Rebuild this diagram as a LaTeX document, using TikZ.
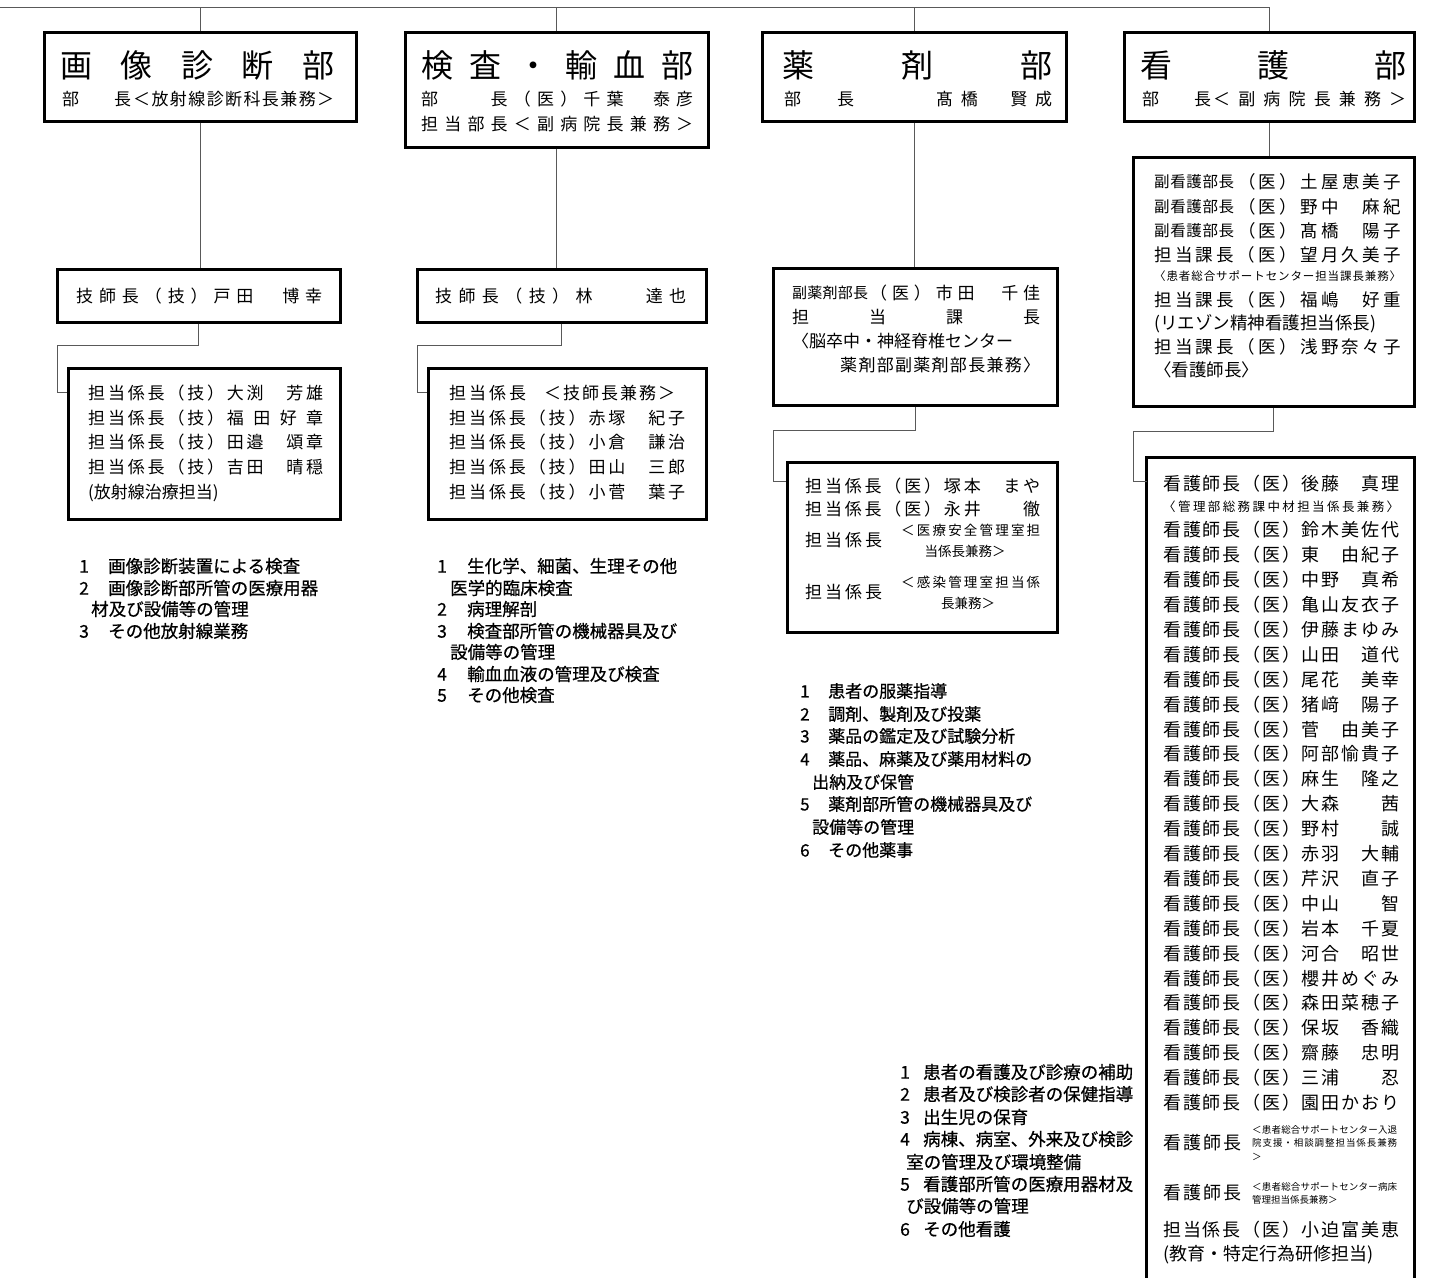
\documentclass[tikz,border=0pt]{standalone}
\usepackage{fontspec}
\setmainfont{Noto Sans CJK JP}
\newfontfamily\lstfont[FakeBold=0.6]{Noto Sans CJK JP}
\makeatletter
\def\spr@end{\spr@end}
\newcommand\spread[2]{\edef\spr@arg{#2}\hbox to #1pt{\expandafter\spr@first\spr@arg\spr@end}}
\def\spr@first#1{#1\spr@next}
\def\spr@next#1{\ifx#1\spr@end\else\hfil#1\expandafter\spr@next\fi}
\newcommand\deffs[2]{%
  \pgfmathsetmacro\fs@h{0.76*#2}%
  \edef\fs@tmp{\noexpand\tikzset{#1/.style={font=\noexpand\fontsize{#2pt}{#2pt}\noexpand\selectfont,text height=\fs@h pt,text depth=0pt}}}%
  \fs@tmp}
\newcommand\deffl[2]{%
  \pgfmathsetmacro\fs@h{0.76*#2}%
  \edef\fs@tmp{\noexpand\tikzset{#1/.style={font=\noexpand\lstfont\noexpand\fontsize{#2pt}{#2pt}\noexpand\selectfont,text height=\fs@h pt,text depth=0pt}}}%
  \fs@tmp}
\makeatother
\deffs{f32}{32}
\deffs{f17}{17}
\deffs{f175}{17.5}
\deffs{f18}{18}
\deffs{f15}{15}
\deffs{f155}{15.5}
\deffs{f135}{13.5}
\deffs{f125}{12.5}
\deffs{f115}{11.5}
\deffs{f95}{9.5}
\deffl{fl}{17.5}
\deffl{flb}{17}
\newcounter{tc}
\newcommand\tx[4][]{\stepcounter{tc}\node[txt,#1] (t\arabic{tc}) at (#2,#3) {#4};}
\newcommand\sx[5][]{\pgfmathsetmacro\sxw{#3-#2}\stepcounter{tc}\node[txt,#1] (t\arabic{tc}) at (#2,#4) {\spread{\sxw}{#5}};}
\begin{document}
\begin{tikzpicture}[x=1pt,y=-1pt,
  box/.style={draw=black, line width=3pt, inner sep=0pt},
  conn/.style={draw=black!65, line width=1pt},
  txt/.style={inner sep=0pt, anchor=west}]
\useasboundingbox[fill=white] (0,0) rectangle (1434,1277);

% ---------- boxes ----------
\node[box, minimum width=312pt, minimum height=89pt]  (b1)  at (200,76.5) {};
\node[box, minimum width=303pt, minimum height=115pt] (b2)  at (556.5,89.5) {};
\node[box, minimum width=304pt, minimum height=89pt]  (b3)  at (914,76.5) {};
\node[box, minimum width=290pt, minimum height=89pt]  (b4)  at (1269,76.5) {};
\node[box, minimum width=283pt, minimum height=53pt]  (b1b) at (198.5,295.5) {};
\node[box, minimum width=289pt, minimum height=53pt]  (b2b) at (561.5,295.5) {};
\node[box, minimum width=272pt, minimum height=151pt] (b1c) at (204,443.5) {};
\node[box, minimum width=278pt, minimum height=151pt] (b2c) at (567,443.5) {};
\node[box, minimum width=284pt, minimum height=137pt] (b3b) at (915,336.5) {};
\node[box, minimum width=270pt, minimum height=170pt] (b3c) at (922,547) {};
\node[box, minimum width=281pt, minimum height=249pt] (n1)  at (1273.5,281.5) {};
\node[inner sep=0pt, minimum width=267pt, minimum height=830pt] (n2) at (1280.5,873) {};
\draw[line width=3pt] (n2.south west) -- (n2.north west) -- (n2.north east) -- (n2.south east);

% ---------- connectors ----------
\coordinate (tl) at (0,7);
\draw[conn] (tl) -- (b4.north |- tl) -- (b4.north);
\draw[conn] (b1.north |- tl) -- (b1.north);
\draw[conn] (b2.north |- tl) -- (b2.north);
\draw[conn] (b3.north |- tl) -- (b3.north);
\draw[conn] (b1.south) -- (b1.south |- b1b.north);
\draw[conn] (b2.south) -- (b2.south |- b2b.north);
\draw[conn] (b3.south) -- (b3.south |- b3b.north);
\draw[conn] (b4.south) -- (b4.south |- n1.north);
\coordinate (j1) at (57,345);   \coordinate (k1) at (57,392);
\coordinate (j2) at (417,345);  \coordinate (k2) at (417,392);
\coordinate (j3) at (773,430);  \coordinate (k3) at (773,481);
\coordinate (j4) at (1133,431); \coordinate (k4) at (1133,481);
\draw[conn] (b1b.south) |- (j1) -- (k1) -- (k1 -| b1c.west);
\draw[conn] (b2b.south) |- (j2) -- (k2) -- (k2 -| b2c.west);
\draw[conn] (b3b.south) |- (j3) -- (k3) -- (k3 -| b3c.west);
\draw[conn] (n1.south)  |- (j4) -- (k4) -- (k4 -| n2.west);

% ---------- top boxes ----------
\sx[f32]{60}{334}{65}{画像診断部}
\tx[f17]{62}{99}{部}
\tx[f17]{114}{99}{長}
\sx[f17]{133}{334}{99}{＜放射線診断科長兼務＞}

\sx[f32]{421}{693}{65}{検査・輸血部}
\sx[f17]{421}{693}{99}{部　　長（医）千葉　泰彦}
\sx[f17]{421}{693}{124}{担当部長＜副病院長兼務＞}

\sx[f32]{782}{1052}{65}{薬剤部}
\tx[f17]{784}{99}{部}
\tx[f17]{837}{99}{長}
\sx[f17]{936}{1052}{99}{髙橋　賢成}

\sx[f32]{1140}{1406}{65}{看護部}
\tx[f17]{1142}{99}{部}
\tx[f17]{1194}{99}{長}
\sx[f17]{1213}{1406}{99}{＜副病院長兼務＞}

% ---------- second level ----------
\sx[f17]{76}{322}{296}{技師長（技）戸田　博幸}
\sx[f17]{435}{686}{296}{技師長（技）林　　達也}

% box 1c
\foreach \nm [count=\i from 0] in {大渕　芳雄,福田好章,田邉　頌章,吉田　晴穏}{
  \pgfmathsetmacro\yy{393+24.75*\i}
  \sx[f17]{88}{224}{\yy}{担当係長（技）}
  \sx[f17]{226.7}{323}{\yy}{\nm}
}
\tx[f17]{88}{492}{(放射線治療担当)}

% box 2c
\sx[f17]{449}{526}{393}{担当係長}
\sx[f17]{544}{675}{393}{＜技師長兼務＞}
\foreach \nm [count=\i from 1] in {赤塚　紀子,小倉　謙治,田山　三郎,小菅　葉子}{
  \pgfmathsetmacro\yy{393+24.75*\i}
  \sx[f17]{449}{585.4}{\yy}{担当係長（技）}
  \sx[f17]{588.3}{685}{\yy}{\nm}
}

% box 3b
\sx[f15]{792}{868}{293}{副薬剤部長}
\sx[f17]{870}{1040}{293}{（医）市田　千佳}
\sx[f17]{792}{1040}{317}{担当課長}
\tx[f17]{792}{341}{〈脳卒中・神経脊椎センター}
\sx[f17]{840}{1040}{365}{薬剤部副薬剤部長兼務〉}

% box 3c
\sx[f17]{805}{1040}{486}{担当係長（医）塚本　まや}
\sx[f17]{805}{1040}{509}{担当係長（医）永井　　徹}
\sx[f17]{805}{882}{540}{担当係長}
\sx[f135]{901}{1040}{530}{＜医療安全管理室担}
\tx[f135,anchor=center]{965}{551}{当係長兼務＞}
\sx[f17]{805}{882}{592}{担当係長}
\sx[f135]{901}{1040}{582}{＜感染管理室担当係}
\tx[f135,anchor=center]{968}{603}{長兼務＞}

% nursing box 1
\foreach \nm/\yy in {土屋恵美子/182,野中　麻紀/207,髙橋　陽子/231}{
  \sx[f155]{1154}{1234}{\yy}{副看護部長}
  \sx[f175]{1238}{1401}{\yy}{（医）\nm}
}
\sx[f175]{1154}{1401}{255}{担当課長（医）望月久美子}
\sx[f115]{1154}{1401}{276}{〈患者総合サポートセンター担当課長兼務〉}
\sx[f175]{1154}{1401}{300}{担当課長（医）福嶋　好重}
\tx[f175]{1154}{323}{(リエゾン精神看護担当係長)}
\sx[f175]{1154}{1401}{347}{担当課長（医）浅野奈々子}
\tx[f175]{1154}{370}{〈看護師長〉}

% nursing box 2
\sx[f18]{1163}{1399}{484}{看護師長（医）後藤　真理}
\sx[f125]{1163}{1399}{507}{〈管理部総務課中材担当係長兼務〉}
\foreach \nm [count=\i from 0] in {鈴木美佐代,東　由紀子,中野　真希,亀山友衣子,伊藤まゆみ,山田　道代,尾花　美幸,猪﨑　陽子,菅　由美子,阿部愉貴子,麻生　隆之,大森　　茜,野村　　誠,赤羽　大輔,芹沢　直子,中山　　智,岩本　千夏,河合　昭世,櫻井めぐみ,森田菜穂子,保坂　香織,齋藤　忠明,三浦　　忍,園田かおり}{
  \pgfmathsetmacro\yy{530+24.9*\i}
  \sx[f18]{1163}{1399}{\yy}{看護師長（医）\nm}
}
\sx[f18]{1163}{1241}{1143}{看護師長}
\sx[f95]{1252}{1397}{1130}{＜患者総合サポートセンター入退}
\sx[f95]{1252}{1397}{1143}{院支援・相談調整担当係長兼務}
\tx[f95]{1252}{1157}{＞}
\sx[f18]{1163}{1241}{1193}{看護師長}
\sx[f95]{1252}{1397}{1187}{＜患者総合サポートセンター病床}
\tx[f95]{1252}{1200}{管理担当係長兼務＞}
\sx[f18]{1163}{1399}{1230}{担当係長（医）小迫富美恵}
\tx[f18]{1163}{1254}{(教育・特定行為研修担当)}

% ---------- duty lists ----------
\foreach \n/\yy/\t in {1/566/画像診断装置による検査,2/588/画像診断部所管の医療用器,3/631/その他放射線業務}{
  \tx[fl]{79}{\yy}{\n}
  \tx[fl]{108}{\yy}{\t}
}
\tx[fl]{91}{609}{材及び設備等の管理}

\foreach \n/\yy/\t in {1/566/生化学、細菌、生理その他,2/609/病理解剖,3/631/検査部所管の機械器具及び,4/674/輸血血液の管理及び検査,5/695/その他検査}{
  \tx[fl]{437}{\yy}{\n}
  \tx[fl]{467}{\yy}{\t}
}
\tx[fl]{450}{588}{医学的臨床検査}
\tx[fl]{450}{652}{設備等の管理}

\foreach \n/\yy/\t in {1/691/患者の服薬指導,2/714/調剤、製剤及び投薬,3/736/薬品の鑑定及び試験分析,4/759/薬品、麻薬及び薬用材料の,5/804/薬剤部所管の機械器具及び,6/850/その他薬事}{
  \tx[flb]{800}{\yy}{\n}
  \tx[flb]{828}{\yy}{\t}
}
\tx[flb]{812}{782}{出納及び保管}
\tx[flb]{812}{827}{設備等の管理}

\foreach \n/\yy/\t in {1/1072/患者の看護及び診療の補助,2/1094/患者及び検診者の保健指導,3/1117/出生児の保育,4/1139/病棟、病室、外来及び検診,5/1184/看護部所管の医療用器材及,6/1229/その他看護}{
  \tx[fl]{900}{\yy}{\n}
  \tx[fl]{923}{\yy}{\t}
}
\tx[fl]{906}{1162}{室の管理及び環境整備}
\tx[fl]{906}{1206}{び設備等の管理}
\end{tikzpicture}
\end{document}
